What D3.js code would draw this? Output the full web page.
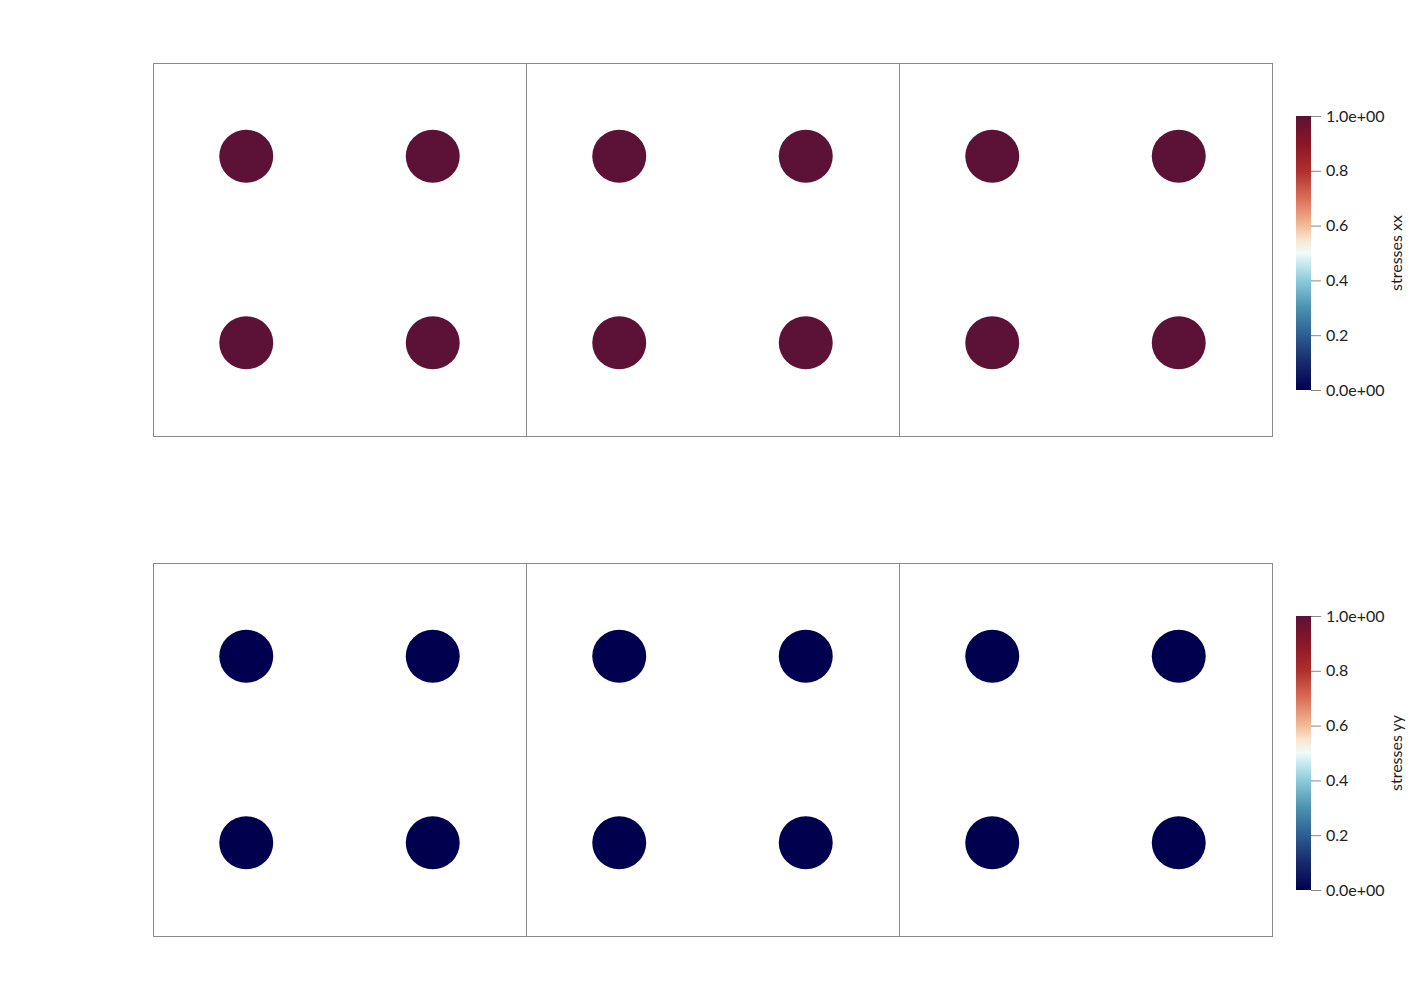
<!DOCTYPE html>
<html><head><meta charset="utf-8">
<script src="https://cdn.jsdelivr.net/npm/d3@7"></script>
<style>body{margin:0;background:#fff}svg{display:block}</style>
</head><body>
<script>
// Data
const panels = ["stresses xx", "stresses yy"];
const cellsX = [0, 1, 2];               // three unit cells per row
const inclusionX = [0.25, 0.75];        // inclusion centres inside each unit cell
const inclusionY = [0.25, 0.75];
const inclusionRadius = 0.071;
const panelValues = [1.0, 0.0];        // stress value in the inclusions
const tickValues = [0, 0.2, 0.4, 0.6, 0.8, 1.0];
const tickLabels = ["0.0e+00", "0.2", "0.4", "0.6", "0.8", "1.0e+00"];
const cmapStops = [0, 0.1, 0.2, 0.3, 0.4, 0.5, 0.55, 0.6, 0.7, 0.8, 0.9, 1.0];
const cmapColors = ["#01004f", "#17296c", "#2c5e92", "#4c91b0", "#8ccbd9", "#eefcfc", "#f9e5cc", "#f2bc96", "#da6f57", "#b02e2d", "#8a1628", "#5c1236"];

const W = 1425, H = 1000;
const svg = d3.select("body").append("svg").attr("width", W).attr("height", H);
const color = d3.scaleLinear().domain(cmapStops).range(cmapColors).interpolate(d3.interpolateRgb);

const x = d3.scaleLinear().domain([0, 3]).range([153, 1272]);
const panelTops = [63, 563];

panels.forEach((name, pi) => {
  const y = d3.scaleLinear().domain([0, 1]).range([panelTops[pi] + 373, panelTops[pi]]);
  const g = svg.append("g");
  // unit cell boxes
  g.selectAll("rect.cell").data(cellsX).join("rect")
    .attr("x", d => x(d) + 0.5).attr("y", y(1) + 0.5)
    .attr("width", x(1) - x(0)).attr("height", y(0) - y(1))
    .attr("fill", "none").attr("stroke", "#8a8a8a").attr("stroke-width", 1);
  // inclusions
  const pts = [];
  cellsX.forEach(c => inclusionX.forEach(ix => inclusionY.forEach(iy => pts.push({cx: c + ix, cy: iy}))));
  g.selectAll("ellipse").data(pts).join("ellipse")
    .attr("cx", d => x(d.cx)).attr("cy", d => y(d.cy))
    .attr("rx", x(inclusionRadius) - x(0) + 0.5).attr("ry", y(0) - y(inclusionRadius))
    .attr("fill", color(panelValues[pi]));

  // colorbar
  const cbTop = panelTops[pi] + 53, cbBot = panelTops[pi] + 327;
  const cy = d3.scaleLinear().domain([0, 1]).range([cbBot, cbTop]);
  const gradId = "grad" + pi;
  const grad = svg.append("defs").append("linearGradient").attr("id", gradId)
    .attr("x1", 0).attr("y1", 1).attr("x2", 0).attr("y2", 0);
  grad.selectAll("stop").data(cmapStops).join("stop")
    .attr("offset", d => d).attr("stop-color", (d, i) => cmapColors[i]);
  const cb = svg.append("g");
  cb.append("rect").attr("x", 1296).attr("y", cbTop).attr("width", 15).attr("height", cbBot - cbTop)
    .attr("fill", `url(#${gradId})`);
  const axis = d3.axisRight(cy).tickValues(tickValues).tickFormat((d, i) => tickLabels[i]).tickSize(10).tickPadding(5);
  const ax = cb.append("g").attr("transform", "translate(1311,0)").call(axis);
  ax.select(".domain").remove();
  ax.selectAll("line").attr("stroke", "#888");
  ax.selectAll("text").attr("font-family", "Lato, sans-serif").attr("font-size", 16).attr("fill", "#222");
  cb.append("text").attr("transform", `translate(1402,${(cbTop + cbBot) / 2}) rotate(-90)`)
    .attr("text-anchor", "middle").attr("font-family", "Lato, sans-serif").attr("font-size", 16)
    .attr("fill", "#222").text(name);
});
</script>
</body></html>
